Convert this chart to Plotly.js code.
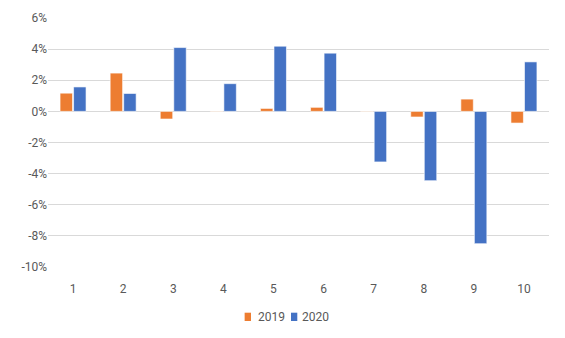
<!DOCTYPE html>
<html>
<head>
<meta charset="utf-8">
<script src="https://cdn.plot.ly/plotly-3.0.1.min.js"></script>
<style>html,body{margin:0;padding:0;background:#fff;}#chart{width:565px;height:338px;}</style>
</head>
<body>
<div id="chart"></div>
<script>
var categories = ['1','2','3','4','5','6','7','8','9','10'];
var seriesNames = ['2019', '2020'];
var seriesColors = ['#ED7D31', '#4472C4'];
var values2019 = [1.17, 2.46, -0.49, 0.02, 0.19, 0.26, 0.02, -0.36, 0.79, -0.75];
var values2020 = [1.57, 1.15, 4.10, 1.78, 4.19, 3.74, -3.25, -4.45, -8.5, 3.18];
var yTicks = [-10, -8, -6, -4, -2, 0, 2, 4, 6];
var yTickLabels = ['-10%', '-8%', '-6%', '-4%', '-2%', '0%', '2%', '4%', '6%'];

var fontFam = 'Roboto, "Liberation Sans", sans-serif';
var data = [
  {type: 'bar', name: seriesNames[0], x: categories, y: values2019,
   marker: {color: seriesColors[0], line: {color: 'rgba(255,255,255,0.6)', width: 1}}},
  {type: 'bar', name: seriesNames[1], x: categories, y: values2020,
   marker: {color: seriesColors[1], line: {color: 'rgba(255,255,255,0.6)', width: 1}}}
];

// compact legend drawn as squares + text (Excel style)
var legendY = -0.2;
var legendItems = [
  {sq0: 0.3925, sq1: 0.4052, tx: 0.4146},
  {sq0: 0.485, sq1: 0.4976, tx: 0.503}
];
var shapes = [], annotations = [];
legendItems.forEach(function (it, i) {
  shapes.push({type: 'rect', xref: 'paper', yref: 'paper', x0: it.sq0, x1: it.sq1,
               y0: -0.2169, y1: -0.1835, fillcolor: seriesColors[i], line: {width: 0}});
  annotations.push({xref: 'paper', yref: 'paper', x: it.tx, y: legendY, xanchor: 'left',
                    yanchor: 'middle', showarrow: false, text: seriesNames[i],
                    font: {size: 12, color: '#595959'}});
});

var layout = {
  width: 565, height: 338,
  margin: {l: 48, r: 16, t: 18, b: 71},
  paper_bgcolor: '#fff', plot_bgcolor: '#fff',
  barmode: 'group', bargap: 0.46, bargroupgap: 0.08,
  font: {family: fontFam, size: 12, color: '#595959'},
  xaxis: {type: 'category', showgrid: false, zeroline: false, showline: false,
          ticks: 'outside', ticklen: 11, tickcolor: 'rgba(0,0,0,0)',
          tickfont: {size: 12, color: '#595959'}},
  yaxis: {range: [-10, 6], tickvals: yTicks, ticktext: yTickLabels,
          showgrid: true, gridcolor: '#d9d9d9', gridwidth: 1,
          zeroline: true, zerolinecolor: '#d9d9d9', zerolinewidth: 1,
          showline: false, ticks: '', ticklen: 0, tickfont: {size: 12, color: '#595959'}},
  showlegend: false,
  shapes: shapes,
  annotations: annotations
};
Plotly.newPlot('chart', data, layout, {displayModeBar: false, staticPlot: true});
</script>
</body>
</html>
